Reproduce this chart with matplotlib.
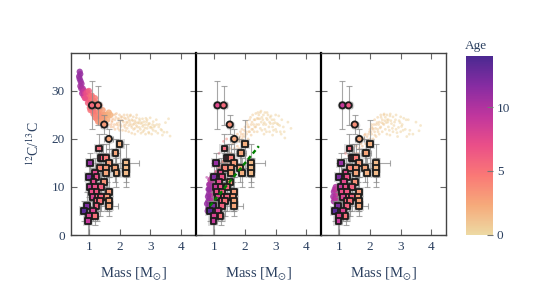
import matplotlib
matplotlib.use("Agg")
import matplotlib.pyplot as plt
from matplotlib.colors import LinearSegmentedColormap, Normalize
from matplotlib.cm import ScalarMappable

plt.rcParams['font.family'] = ['Liberation Serif', 'DejaVu Serif']
plt.rcParams['mathtext.fontset'] = 'stix'

INK = '#2a3f5f'
palette = ['#edd9a3', '#f6a97a', '#fa7876', '#ea4f88', '#c0369d', '#872ca2', '#4b2991']
cmap = LinearSegmentedColormap.from_list('agsunset_r', palette)
norm = Normalize(0, 14)

# observed stars
sq_mass = [2.0, 1.33, 1.87, 1.4, 1.47, 1.55, 1.05, 1.65, 2.2, 1.35, 1.55, 1.85, 2.2,
           1.2, 1.55, 1.9, 2.2, 1.0, 1.25, 1.15, 1.5, 1.05, 1.2, 1.4, 1.1, 1.25, 1.65,
           1.12, 1.3, 1.4, 1.6, 1.25, 1.35, 1.65, 0.95, 1.25, 1.65, 0.85, 1.12, 1.0, 1.2, 0.97]
sq_ratio = [19, 18, 17, 16, 16, 16, 15, 15, 15, 14, 14, 14, 14,
            13, 13, 13, 13, 12, 12, 11, 11, 10, 10, 10, 9, 9, 9,
            8, 8, 8, 8, 7, 7, 7, 6, 6, 6, 5, 5, 4, 4, 3]
sq_age = [2, 5.5, 2.5, 7, 6, 4.5, 11, 3, 1.5, 4, 3, 2.5, 1.5,
          7.5, 2.5, 2, 1.5, 12, 7, 7.5, 3.5, 9, 7, 6, 7, 6.5, 3,
          8, 6, 6, 3, 6, 5, 2.5, 12, 6, 2.5, 13.5, 8, 8, 5, 9]
sq_yerr = [5, 3, 3, 3, 3, 3, 2, 3, 4, 3, 3, 3, 2,
           3, 3, 3, 3, 3, 3, 3, 3, 3, 3, 3, 3, 3, 3,
           3, 3, 3, 3, 3, 3, 2, 3, 3, 2, 2, 2, 4, 2, 4]
sq_xerr = [0.1, 0.1, 0.15, 0.1, 0.1, 0.1, 0.1, 0.1, 0.45, 0.1, 0.1, 0.1, 0.1,
           0.1, 0.1, 0.1, 0.1, 0.1, 0.1, 0.1, 0.1, 0.1, 0.1, 0.1, 0.1, 0.1, 0.1,
           0.1, 0.1, 0.1, 0.1, 0.1, 0.1, 0.1, 0.1, 0.1, 0.3, 0.1, 0.1, 0.1, 0.1, 0.1]
circ_mass = [1.1, 1.3, 1.5, 1.65]
circ_ratio = [27, 27, 23, 20]
circ_yerr = [5, 4, 2, 2]
circ_xerr = [0.1, 0.1, 0.1, 0.15]
circ_age = [[5.5, 4.5, 3, 2.5], [7.5, 5.5, 3.5, 2.5], [9, 6.5, 3.5, 2.5]]

# model clouds: dense core and sparse scatter for each panel
core1_mass = [0.70, 0.68, 0.72, 0.70, 0.73, 0.72, 0.76, 0.75, 0.80, 0.78, 0.82, 0.85, 0.83, 0.88, 0.90, 0.92,
              0.95, 1.00, 1.00, 1.05, 1.10, 1.10, 1.15, 1.20, 1.20, 1.30, 1.30, 1.35, 1.40, 1.40, 1.50, 1.50,
              1.55, 1.60, 1.60, 0.87, 0.97, 1.03, 1.13, 1.25, 1.35, 1.45,
              0.95, 1.0, 1.05, 1.05, 1.1, 1.15, 1.15, 1.2, 1.2, 1.25, 1.25, 1.3, 1.3, 1.35, 1.35, 1.45, 1.45, 1.65, 1.7]
core1_ratio = [34, 33, 33.5, 32.5, 32, 31, 31.5, 30.5, 30.5, 29.5, 29.8, 30, 29, 29.5, 28.5, 29.5,
               28.5, 29, 28, 27.5, 28, 26.5, 26.5, 27, 25.5, 25.5, 24.5, 26, 25, 24, 25, 24,
               25, 24, 25, 28.5, 27.5, 26.5, 25.8, 24.8, 24.8, 24.3,
               29.8, 30, 29, 26, 29, 28, 25.2, 28.5, 24.5, 27.5, 24.2, 27, 23.6, 27, 23.5, 26, 23.5, 25.5, 25]
core1_age = [11, 11, 11, 11, 11, 10.5, 10.5, 10.5, 10, 10, 9.5, 9, 9, 8, 7, 7,
             6, 5.5, 5.5, 5, 5, 4.8, 4.5, 4.5, 4.5, 3.8, 3.8, 3.5, 3.2, 3.2, 2.8, 2.6,
             2.6, 2.2, 2.2, 7, 6, 5, 4.8, 4, 3.4, 3,
             7, 6, 5.5, 5, 5, 4.8, 4.5, 4.5, 4, 4, 4, 4, 3.5, 3.5, 3, 2.8, 2.6, 2, 1.8]
sparse1_mass = [1.65, 1.7, 1.72, 1.75, 1.8, 1.8, 1.85, 1.85, 1.9, 1.9, 1.95, 1.95, 2.0, 2.0, 2.0, 2.05, 2.05, 2.1,
                2.1, 2.15, 2.15, 2.2, 2.2, 2.2, 2.25, 2.25, 2.3, 2.3, 2.3, 2.35, 2.35, 2.4, 2.4, 2.4, 2.45, 2.45,
                2.5, 2.5, 2.5, 2.55, 2.55, 2.6, 2.6, 2.65, 2.65, 2.7, 2.7, 2.75, 2.75, 2.8, 2.8, 2.85, 2.85, 2.9,
                2.9, 2.95, 2.95, 3.0, 3.0, 3.05, 3.1, 3.1, 3.15, 3.2, 3.25, 3.3, 3.35, 3.4, 3.5, 3.55, 3.6, 3.65,
                1.68, 1.73, 1.78, 1.83, 1.88, 1.93, 1.98, 2.03, 2.08, 2.13, 2.18, 2.23, 2.28, 2.33, 2.38, 2.43, 2.48,
                2.53, 2.58, 2.63, 2.68, 2.73, 2.78, 2.83, 2.88, 2.93, 2.98, 3.03, 3.08, 3.13, 3.18, 3.28, 3.38, 3.45,
                1.76, 1.86, 1.96, 2.06, 2.16, 2.26, 2.36, 2.46, 2.56, 2.66, 2.76, 2.86, 2.96, 3.06, 3.22]
sparse1_ratio = [23, 24.5, 22.5, 23.5, 25, 22.5, 24, 22, 25.3, 23, 24.2, 22.2, 25, 23.5, 21.8, 24.6, 22.6, 23.8,
                 21.8, 25, 22.8, 24.2, 23, 21.7, 25, 22.2, 24, 22.8, 21.5, 24.8, 23.2, 24, 22.4, 21.2, 24.6, 23,
                 23.8, 22.2, 21, 24.4, 22.8, 23.4, 21.6, 24.2, 22.4, 23.2, 21.2, 24.2, 22.6, 23.6, 21.8, 23, 21,
                 24, 22.2, 23.2, 21.4, 24.4, 22.4, 21, 23.6, 21.8, 22.8, 24, 21.2, 23, 22, 20.8, 23.4, 21.4, 24.2, 20.6,
                 25, 23, 24.2, 23, 24.5, 23.3, 24.2, 23, 24.6, 23.5, 22.4, 23.5, 24.5, 23.7, 22.8, 23.8, 23.2,
                 23.4, 22.5, 23.3, 22, 23.4, 22.9, 22.3, 23.6, 22.8, 23.2, 22.5, 23, 22.5, 21.6, 22.5, 21.8, 21.4,
                 23.8, 25.1, 22.8, 24, 24.4, 23.4, 25, 22, 25, 23.8, 21.5, 24.3, 21.2, 22.2, 23]
sparse1_age = [1.8, 2, 1.8, 1.8, 1.6, 1.6, 1.5, 1.5, 1.4, 1.4, 1.3, 1.3, 1.2, 1.2, 1.2, 1.1, 1.1, 1.1,
               1, 1, 1, 1, 1, 1, 0.9, 0.9, 0.9, 0.9, 0.9, 0.8, 0.8, 0.8, 0.8, 0.8, 0.8, 0.8,
               0.7, 0.7, 0.7, 0.7, 0.7, 0.7, 0.7, 0.6, 0.6, 0.6, 0.6, 0.6, 0.6, 0.6, 0.6, 0.5, 0.5, 0.5,
               0.5, 0.5, 0.5, 0.5, 0.5, 0.5, 0.4, 0.4, 0.4, 0.4, 0.4, 0.4, 0.3, 0.3, 0.3, 0.3, 0.3, 0.3,
               2, 1.9, 1.7, 1.5, 1.4, 1.3, 1.2, 1.1, 1.1, 1, 1, 0.9, 0.9, 0.8, 0.8, 0.8, 0.7,
               0.7, 0.7, 0.6, 0.6, 0.6, 0.6, 0.5, 0.5, 0.5, 0.5, 0.4, 0.4, 0.4, 0.4, 0.3, 0.3, 0.3,
               1.8, 1.5, 1.3, 1.1, 1, 0.9, 0.8, 0.7, 0.7, 0.6, 0.6, 0.5, 0.5, 0.5, 0.4]

core2_mass = [0.78, 0.8, 0.8, 0.82, 0.82, 0.84, 0.84, 0.86, 0.86, 0.88, 0.88, 0.9, 0.9, 0.92, 0.92, 0.95, 0.95,
              0.98, 1.0, 1.0, 1.03, 1.05, 1.08, 1.1, 1.12, 1.15, 1.18, 1.2, 1.25, 1.3, 1.35, 1.4, 1.45, 1.5,
              0.76, 0.79, 0.81, 0.83, 0.85, 0.87, 0.93, 0.97, 1.02]
core2_ratio = [5, 5.5, 7, 6, 8.5, 7.5, 9.5, 5, 10.5, 7, 9, 6, 11, 8, 10, 7, 11.5,
               9, 8, 12, 10, 12.5, 10.5, 13, 11.5, 13, 12.5, 14, 13.5, 15, 14.5, 15.5, 15.5, 16.5,
               6.5, 8, 9.5, 10.5, 6.5, 11.5, 12, 6, 7]
core2_age = [11, 11, 11, 11, 11, 11, 11, 10.5, 10.5, 10.5, 10.5, 10, 10, 10, 10, 9.5, 9,
             9, 9, 8.5, 8, 7.5, 7, 7, 6, 6, 5.5, 5, 4.5, 4, 3.5, 3, 3, 2.5,
             11, 11, 11, 10.5, 11, 9.5, 9, 10, 9]
sparse2_mass = [1.5, 1.55, 1.6, 1.65, 1.7, 1.75, 1.75, 1.8, 1.8, 1.85, 1.85, 1.9, 1.9, 1.95, 1.95, 2.0, 2.0, 2.05,
                2.05, 2.1, 2.1, 2.15, 2.15, 2.2, 2.2, 2.25, 2.25, 2.3, 2.3, 2.35, 2.35, 2.4, 2.4, 2.45, 2.45, 2.5,
                2.5, 2.55, 2.55, 2.6, 2.6, 2.65, 2.65, 2.7, 2.7, 2.75, 2.8, 2.8, 2.85, 2.9, 2.9, 2.95, 3.0, 3.0,
                3.05, 3.1, 3.15, 3.2, 3.25, 3.3, 3.4, 3.5, 1.3, 1.4, 0.75, 1.15,
                1.78, 1.83, 1.88, 1.93, 1.98, 2.03, 2.08, 2.13, 2.18, 2.23, 2.28, 2.33, 2.38, 2.43, 2.48, 2.53,
                2.58, 2.63, 2.68, 2.73, 2.78, 2.83, 2.88, 2.93, 2.98, 3.03, 3.08, 3.13, 3.18, 3.28,
                1.92, 2.02, 2.12, 2.22, 2.32, 2.42, 2.52, 2.62, 2.72, 2.82, 2.92]
sparse2_ratio = [18, 17, 19, 18, 20, 21, 18.5, 20, 18, 21.5, 19.5, 22, 20, 21, 19, 22.5, 20.5, 23.5,
                 21, 22.5, 20, 24, 21.5, 23, 20.8, 25, 22, 24, 21.5, 25.3, 22.5, 24.3, 21.5, 25, 23, 25.5,
                 22.2, 24.5, 21.8, 25, 23, 25.5, 22, 24.3, 21.5, 25, 23.5, 21.5, 24.8, 22.5, 20.8, 24, 25, 22,
                 23.2, 24.8, 21.5, 24, 22.5, 20.2, 23.5, 22.2, 19.5, 20, 12, 17,
                 19.5, 20.5, 21, 20.5, 21.8, 21.5, 23, 22.5, 24.5, 23.5, 23, 24, 23, 24.2, 24.2, 23.5,
                 24, 23.4, 23, 24, 22.5, 23.2, 24, 21.8, 23.4, 21.5, 23, 22.8, 21, 21.5,
                 18.5, 19.5, 21.5, 22, 22.5, 25.5, 25.8, 21, 25.5, 24.5, 23.2]
sparse2_age = [2.2, 2.2, 2, 2, 1.8, 1.6, 1.6, 1.5, 1.5, 1.4, 1.4, 1.3, 1.3, 1.2, 1.2, 1.1, 1.1, 1,
               1, 1, 1, 0.9, 0.9, 0.9, 0.9, 0.8, 0.8, 0.8, 0.8, 0.7, 0.7, 0.7, 0.7, 0.7, 0.7, 0.6,
               0.6, 0.6, 0.6, 0.6, 0.6, 0.5, 0.5, 0.5, 0.5, 0.5, 0.5, 0.5, 0.4, 0.4, 0.4, 0.4, 0.4, 0.4,
               0.4, 0.3, 0.3, 0.3, 0.3, 0.3, 0.3, 0.3, 5, 4, 10, 6,
               1.6, 1.5, 1.4, 1.3, 1.2, 1.1, 1, 1, 0.9, 0.9, 0.8, 0.8, 0.7, 0.7, 0.7, 0.6,
               0.6, 0.6, 0.5, 0.5, 0.5, 0.5, 0.4, 0.4, 0.4, 0.4, 0.3, 0.3, 0.3, 0.3,
               1.3, 1.2, 1, 0.9, 0.8, 0.7, 0.6, 0.6, 0.5, 0.5, 0.4]

core3_mass = [0.8, 0.82, 0.82, 0.85, 0.85, 0.88, 0.88, 0.9, 0.92, 0.95, 0.98, 1.0, 1.05]
core3_ratio = [8, 7, 9, 7.5, 9.5, 8, 10, 9, 7.5, 9.5, 8.5, 10, 9]
core3_age = [10.5, 10.5, 10.5, 10, 10, 10, 10, 9.5, 9.5, 9, 8.5, 8, 7.5]
sparse3_mass = [1.2, 1.3, 1.4, 1.45, 1.5, 1.55, 1.6, 1.6, 1.65, 1.7, 1.75, 1.75, 1.8, 1.85, 1.85, 1.9, 1.9, 1.95,
                2.0, 2.0, 2.05, 2.05, 2.1, 2.1, 2.15, 2.15, 2.2, 2.2, 2.25, 2.25, 2.3, 2.3, 2.35, 2.35, 2.4, 2.4,
                2.45, 2.45, 2.5, 2.5, 2.55, 2.55, 2.6, 2.6, 2.65, 2.65, 2.7, 2.75, 2.75, 2.8, 2.85, 2.85, 2.9,
                2.95, 3.0, 3.0, 3.05, 3.1, 3.15, 3.2, 3.25, 3.3, 3.4, 3.5, 3.6, 3.65,
                1.72, 1.82, 1.92, 1.98, 2.03, 2.08, 2.13, 2.18, 2.23, 2.28, 2.33, 2.38, 2.43, 2.48, 2.53, 2.58,
                2.63, 2.68, 2.73, 2.78, 2.83, 2.88, 2.93, 2.98, 3.03, 3.08, 3.18, 3.28,
                2.06, 2.16, 2.26, 2.36, 2.46, 2.56, 2.66]
sparse3_ratio = [17, 16.5, 16, 18, 17, 18.5, 17, 19.5, 18, 19, 20, 18.5, 20, 21, 19, 20.5, 19, 21,
                 22, 20, 23, 21, 22, 20, 24, 21.5, 23, 20.5, 24.5, 22, 23.5, 21, 25, 22.5, 24, 21.5,
                 25, 23, 24.5, 22, 25, 21, 24, 22.5, 24.8, 20.8, 23.2, 24.6, 21.5, 23.5, 25, 22, 20.5,
                 23.8, 24.6, 21.5, 23, 24.3, 22, 20.5, 24, 21.8, 21, 23.5, 21.7, 22.8,
                 19.5, 20.8, 19.8, 21.5, 21.5, 22.2, 23, 22.2, 23.4, 23, 22.3, 23.4, 23.2, 23.8, 23.4, 23.5,
                 21.8, 23.8, 22.2, 22.8, 24, 21.3, 22.4, 23.4, 22.6, 21.8, 24, 21,
                 22.5, 20.8, 21.5, 24.5, 25.2, 24, 25.2]
sparse3_age = [4.5, 4, 3.5, 3, 3, 2.5, 2.5, 2, 2, 1.8, 1.6, 1.6, 1.5, 1.4, 1.4, 1.3, 1.3, 1.2,
               1.1, 1.1, 1, 1, 1, 1, 0.9, 0.9, 0.9, 0.9, 0.8, 0.8, 0.8, 0.8, 0.7, 0.7, 0.7, 0.7,
               0.7, 0.7, 0.6, 0.6, 0.6, 0.6, 0.6, 0.6, 0.5, 0.5, 0.5, 0.5, 0.5, 0.5, 0.4, 0.4, 0.4,
               0.4, 0.4, 0.4, 0.4, 0.3, 0.3, 0.3, 0.3, 0.3, 0.3, 0.3, 0.3, 0.3,
               1.8, 1.5, 1.3, 1.2, 1.1, 1, 1, 0.9, 0.9, 0.8, 0.8, 0.7, 0.7, 0.7, 0.6, 0.6,
               0.6, 0.5, 0.5, 0.5, 0.4, 0.4, 0.4, 0.4, 0.4, 0.3, 0.3, 0.3,
               1, 0.9, 0.8, 0.7, 0.7, 0.6, 0.5]

fit_mass = [0.85, 2.45]
fit_ratio = [6, 18.5]

x_ticks = [1, 2, 3, 4]
y_ticks = [0, 10, 20, 30]
cbar_ticks = [0, 5, 10]

W, H = 538, 283
fig = plt.figure(figsize=(W / 100, H / 100), dpi=100)
panel_left = [70.5, 196, 321]
panel_w = 125
top, bottom = 52.5, 235

clouds = [
    (core1_mass, core1_ratio, core1_age, sparse1_mass, sparse1_ratio, sparse1_age),
    (core2_mass, core2_ratio, core2_age, sparse2_mass, sparse2_ratio, sparse2_age),
    (core3_mass, core3_ratio, core3_age, sparse3_mass, sparse3_ratio, sparse3_age),
]

for i, left in enumerate(panel_left):
    ax = fig.add_axes([left / W, 1 - bottom / H, panel_w / W, (bottom - top) / H])
    ax.set_xlim(0.4, 4.48)
    ax.set_ylim(0, 38)
    cm, cr, ca, sm, sr, sa = clouds[i]
    ax.scatter(sm, sr, c=sa, cmap=cmap, norm=norm, s=4, alpha=0.5, linewidths=0, zorder=1)
    ax.scatter(cm, cr, c=ca, cmap=cmap, norm=norm, s=20, alpha=0.85, linewidths=0, zorder=1.5)
    ax.errorbar(sq_mass, sq_ratio, xerr=sq_xerr, yerr=sq_yerr, fmt='none', ecolor='#8a8a8a',
                elinewidth=0.8, capsize=2.5, capthick=0.8, alpha=0.75, zorder=2)
    ax.errorbar(circ_mass, circ_ratio, xerr=circ_xerr, yerr=circ_yerr, fmt='none', ecolor='#8a8a8a',
                elinewidth=0.8, capsize=2.5, capthick=0.8, alpha=0.75, zorder=2)
    ax.scatter(sq_mass, sq_ratio, color='#777777', marker='s', s=48, alpha=0.25, linewidths=0, zorder=2.5)
    ax.scatter(sq_mass, sq_ratio, c=sq_age, cmap=cmap, norm=norm, marker='s', s=18,
               edgecolors='#1c1c1c', linewidths=1.3, zorder=3)
    ax.scatter(circ_mass, circ_ratio, color='#777777', marker='o', s=48, alpha=0.25, linewidths=0, zorder=2.5)
    ax.scatter(circ_mass, circ_ratio, c=circ_age[i], cmap=cmap, norm=norm, marker='o', s=20,
               edgecolors='#1c1c1c', linewidths=1.3, zorder=3)
    if i == 1:
        ax.plot(fit_mass, fit_ratio, color='#008000', ls=(0, (1.8, 1.4)), lw=1.7, zorder=5)
    ax.set_xticks(x_ticks)
    ax.set_yticks(y_ticks)
    ax.tick_params(axis='both', direction='in', length=4.5, width=0.8, color='#666666',
                   top=True, right=True, labelcolor=INK, labelsize=9.5, pad=4)
    if i > 0:
        ax.tick_params(axis='y', labelleft=False)
    ax.set_xlabel('Mass [M$_{\\odot}$]', color=INK, fontsize=10.5, labelpad=9)
    for s in ax.spines.values():
        s.set_color('#444444')
        s.set_linewidth(1.0)
    if i > 0:
        ax.spines['left'].set_color('black')
        ax.spines['left'].set_linewidth(1.6)
    if i == 0:
        ax.set_ylabel('$^{12}$C/$^{13}$C', color=INK, fontsize=10, labelpad=7)

cax = fig.add_axes([466 / W, 1 - 234.7 / H, 26.7 / W, 178.7 / H])
cb = fig.colorbar(ScalarMappable(norm=norm, cmap=cmap), cax=cax)
cb.set_ticks(cbar_ticks)
cb.outline.set_visible(False)
cax.tick_params(direction='in', length=4.5, width=0.8, color='#777777', labelcolor=INK, labelsize=9.5, pad=3)
fig.text(476 / W, 1 - 46 / H, 'Age', color=INK, fontsize=9.5, ha='center', va='center')

fig.savefig('out.png', dpi=100)
